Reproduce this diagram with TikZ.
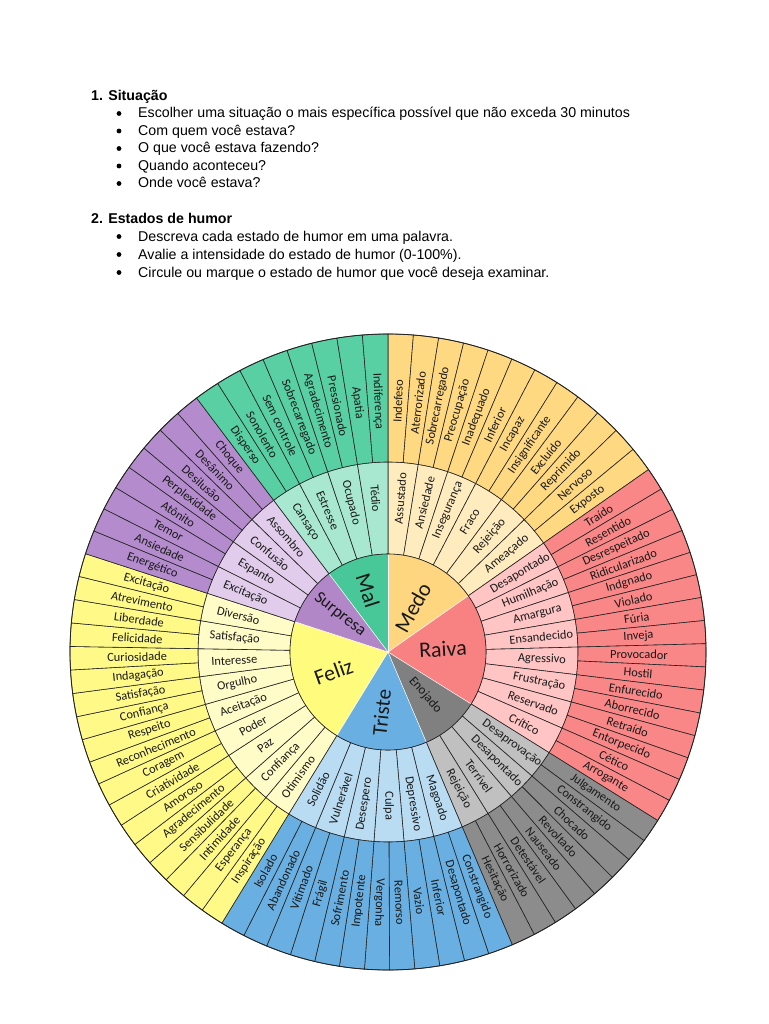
\documentclass[tikz,border=0pt]{standalone}
\usepackage{fontspec}
\setmainfont{Liberation Sans}
\newfontfamily\wheelfont{Carlito}
\usepackage{tikz}
\usetikzlibrary{positioning}

\definecolor{linecol}{RGB}{35,35,35}
\definecolor{txtcol}{RGB}{25,25,25}
\definecolor{malI}{RGB}{72,200,152}
\definecolor{malM}{RGB}{168,232,208}
\definecolor{malO}{RGB}{88,208,163}
\definecolor{medoI}{RGB}{255,214,128}
\definecolor{medoM}{RGB}{255,236,190}
\definecolor{medoO}{RGB}{255,216,130}
\definecolor{raivaI}{RGB}{248,130,130}
\definecolor{raivaM}{RGB}{255,196,196}
\definecolor{raivaO}{RGB}{250,135,135}
\definecolor{enoI}{RGB}{128,128,128}
\definecolor{enoM}{RGB}{192,192,192}
\definecolor{enoO}{RGB}{140,140,140}
\definecolor{tristeI}{RGB}{105,175,225}
\definecolor{tristeM}{RGB}{185,220,242}
\definecolor{tristeO}{RGB}{105,175,225}
\definecolor{felizI}{RGB}{255,252,125}
\definecolor{felizM}{RGB}{255,252,200}
\definecolor{felizO}{RGB}{255,250,135}
\definecolor{surI}{RGB}{178,135,200}
\definecolor{surM}{RGB}{225,205,235}
\definecolor{surO}{RGB}{180,140,205}

% one ring part: start, end, count, r in, r out, fill, text r, name, words
\newcommand{\ringpart}[9]{%
  \pgfmathsetmacro{\segstep}{(#2-#1)/#3}%
  \foreach \w [count=\i] in {#9} {
    \pgfmathsetmacro{\angA}{#1+(\i-1)*\segstep}
    \pgfmathsetmacro{\angB}{#1+\i*\segstep}
    \pgfmathsetmacro{\angM}{(\angA+\angB)/2}
    \pgfmathsetmacro{\angR}{\angM>-93 ? \angM : \angM+180}
    \filldraw[seg, fill=#6] (\angA:#4) -- (\angA:#5)
      arc[start angle=\angA, end angle=\angB, radius=#5] -- (\angB:#4)
      arc[start angle=\angB, end angle=\angA, radius=#4] -- cycle;
    \node[word, rotate=\angR] (#8-\i) at (\angM:#7) {\w};
  }%
}

\begin{document}
\begin{tikzpicture}[
  x=1pt, y=1pt,
  hdr/.style={anchor=base west, inner sep=0pt, font=\bfseries\fontsize{14.2}{16}\selectfont},
  item/.style={anchor=base west, inner sep=0pt, font=\fontsize{14.2}{16}\selectfont},
  seg/.style={draw=linecol, line width=0.6pt},
  word/.style={inner sep=0pt, text=txtcol, font=\wheelfont\fontsize{12.4}{13}\selectfont},
  core/.style={inner sep=0pt, text=txtcol, font=\wheelfont\fontsize{#1}{#1}\selectfont},
]
\useasboundingbox (0,0) rectangle (768,-1024);
\fill[white] (0,0) rectangle (768,-1024);

% header text
\node[hdr] (sit) at (91,-100.5) {1. Situação};
\node[item] (sit1) at (138,-118) {Escolher uma situação o mais específica possível que não exceda 30 minutos};
\node[item] (sit2) at (138,-135.5) {Com quem você estava?};
\node[item] (sit3) at (138,-153) {O que você estava fazendo?};
\node[item] (sit4) at (138,-170.5) {Quando aconteceu?};
\node[item] (sit5) at (138,-188) {Onde você estava?};

\node[hdr] (hum) at (91,-223.5) {2. Estados de humor};
\node[item] (hum1) at (138,-241) {Descreva cada estado de humor em uma palavra.};
\node[item] (hum2) at (138,-259) {Avalie a intensidade do estado de humor (0-100\%).};
\node[item] (hum3) at (138,-277) {Circule ou marque o estado de humor que você deseja examinar.};

\foreach \n in {sit1,sit2,sit3,sit4,sit5,hum1,hum2,hum3}
  \fill ([xshift=-19pt, yshift=4.5pt]\n.base west) circle[radius=2.4];

% the wheel
\begin{scope}[shift={(388,-652)}]
  % middle ring
  \ringpart{90}{35}{6}{98}{190}{medoM}{154}{medom}{Assustado, Ansiedade, Insegurança, Fraco, Rejeição, Ameaçado}
  \ringpart{35}{-32}{8}{98}{190}{raivaM}{154}{raivam}{Desapontado, Humilhação, Amargura, Ensandecido, Agressivo, Frustração, Reservado, Crítico}
  \ringpart{-32}{-67}{4}{98}{190}{enoM}{154}{enom}{Desaprovação, Desapontado, Terrível, Rejeição}
  \ringpart{-67}{-121.5}{6}{98}{190}{tristeM}{154}{tristem}{Magoado, Depressivo, Culpa, Desespero, Vulnerável, Solidão}
  \ringpart{-121.5}{-198}{9}{98}{190}{felizM}{154}{felizm}{Otimismo, Confiança, Paz, Poder, Aceitação, Orgulho, Interesse, Satisfação, Diversão}
  \ringpart{-198}{-233}{4}{98}{190}{surM}{154}{surm}{Excitação, Espanto, Confusão, Assombro}
  \ringpart{-233}{-270}{4}{98}{190}{malM}{154}{malm}{Cansaço, Estresse, Ocupado, Tédio}

  % outer ring
  \ringpart{90}{35}{12}{190}{318}{medoO}{251}{medoo}{Indefeso, Aterrorizado, Sobrecarregado, Preocupação, Inadequado, Inferior, Incapaz, Insignificante, Excluído, Reprimido, Nervoso, Exposto}
  \ringpart{35}{-32}{16}{190}{318}{raivaO}{251}{raivao}{Traído, Resentido, Desrespeitado, Ridicularizado, Indgnado, Violado, Fúria, Inveja, Provocador, Hostil, Enfurecido, Aborrecido, Retraído, Entorpecido, Cético, Arrogante}
  \ringpart{-32}{-67}{8}{190}{318}{enoO}{251}{enoo}{Julgamento, Constrangido, Chocado, Revoltado, Nauseado, Detestável, Horrorizado, Hesitação}
  \ringpart{-67}{-121.5}{12}{190}{318}{tristeO}{251}{tristeo}{Constrangido, Desapontado, Inferior, Vazio, Remorso, Vergonha, Impotente, Sofrimento, Frágil, Vitimado, Abandonado, Isolado}
  \ringpart{-121.5}{-198}{18}{190}{318}{felizO}{251}{felizo}{Inspiração, Esperança, Intimidade, Sensibulidade, Agradecimento, Amoroso, Criatividade, Coragem, Reconhecimento, Respeito, Confiança, Satisfação, Indagação, Curiosidade, Felicidade, Liberdade, Atrevimento, Excitação}
  \ringpart{-198}{-233}{8}{190}{318}{surO}{251}{suro}{Energético, Ansiedade, Temor, Atônito, Perplexidade, Desilusão, Desânimo, Choque}
  \ringpart{-233}{-270}{8}{190}{318}{malO}{251}{malo}{Disperso, Sonolento, Sem controle, Sobrecarregado, Agradecimento, Pressionado, Apatia, Indiferença}

  % centre
  \fill[medoI] (0,0) -- (90:98) arc[start angle=90, end angle=35, radius=98] -- cycle;
  \fill[raivaI] (0,0) -- (35:98) arc[start angle=35, end angle=-32, radius=98] -- cycle;
  \fill[enoI] (0,0) -- (-32:98) arc[start angle=-32, end angle=-67, radius=98] -- cycle;
  \fill[tristeI] (0,0) -- (-67:98) arc[start angle=-67, end angle=-121.5, radius=98] -- cycle;
  \fill[felizI] (0,0) -- (-121.5:98) arc[start angle=-121.5, end angle=-198, radius=98] -- cycle;
  \fill[surI] (0,0) -- (-198:98) arc[start angle=-198, end angle=-233, radius=98] -- cycle;
  \fill[malI] (0,0) -- (-233:98) arc[start angle=-233, end angle=-270, radius=98] -- cycle;
  \foreach \t in {90,35,-32,-67,-121.5,-198,-233}
    \draw[white, line width=0.5pt] (0,0) -- (\t:97.5);
  \draw[linecol, line width=0.6pt] (0,0) circle[radius=98];
  \draw[linecol, line width=0.8pt] (0,0) circle[radius=318];

  \node[core=22, rotate=61] (medo) at (61:51) {Medo};
  \node[core=22, rotate=3] (raiva) at (3:55) {Raiva};
  \node[core=13, rotate=-49] (enojado) at (-49:57) {Enojado};
  \node[core=21, rotate=84] (triste) at (264:61) {Triste};
  \node[core=22, rotate=20] (feliz) at (200:58) {Feliz};
  \node[core=17, rotate=-38] (surpresa) at (142:61) {Surpresa};
  \node[core=22, rotate=-72] (mal) at (108:65) {Mal};
\end{scope}
\end{tikzpicture}
\end{document}
